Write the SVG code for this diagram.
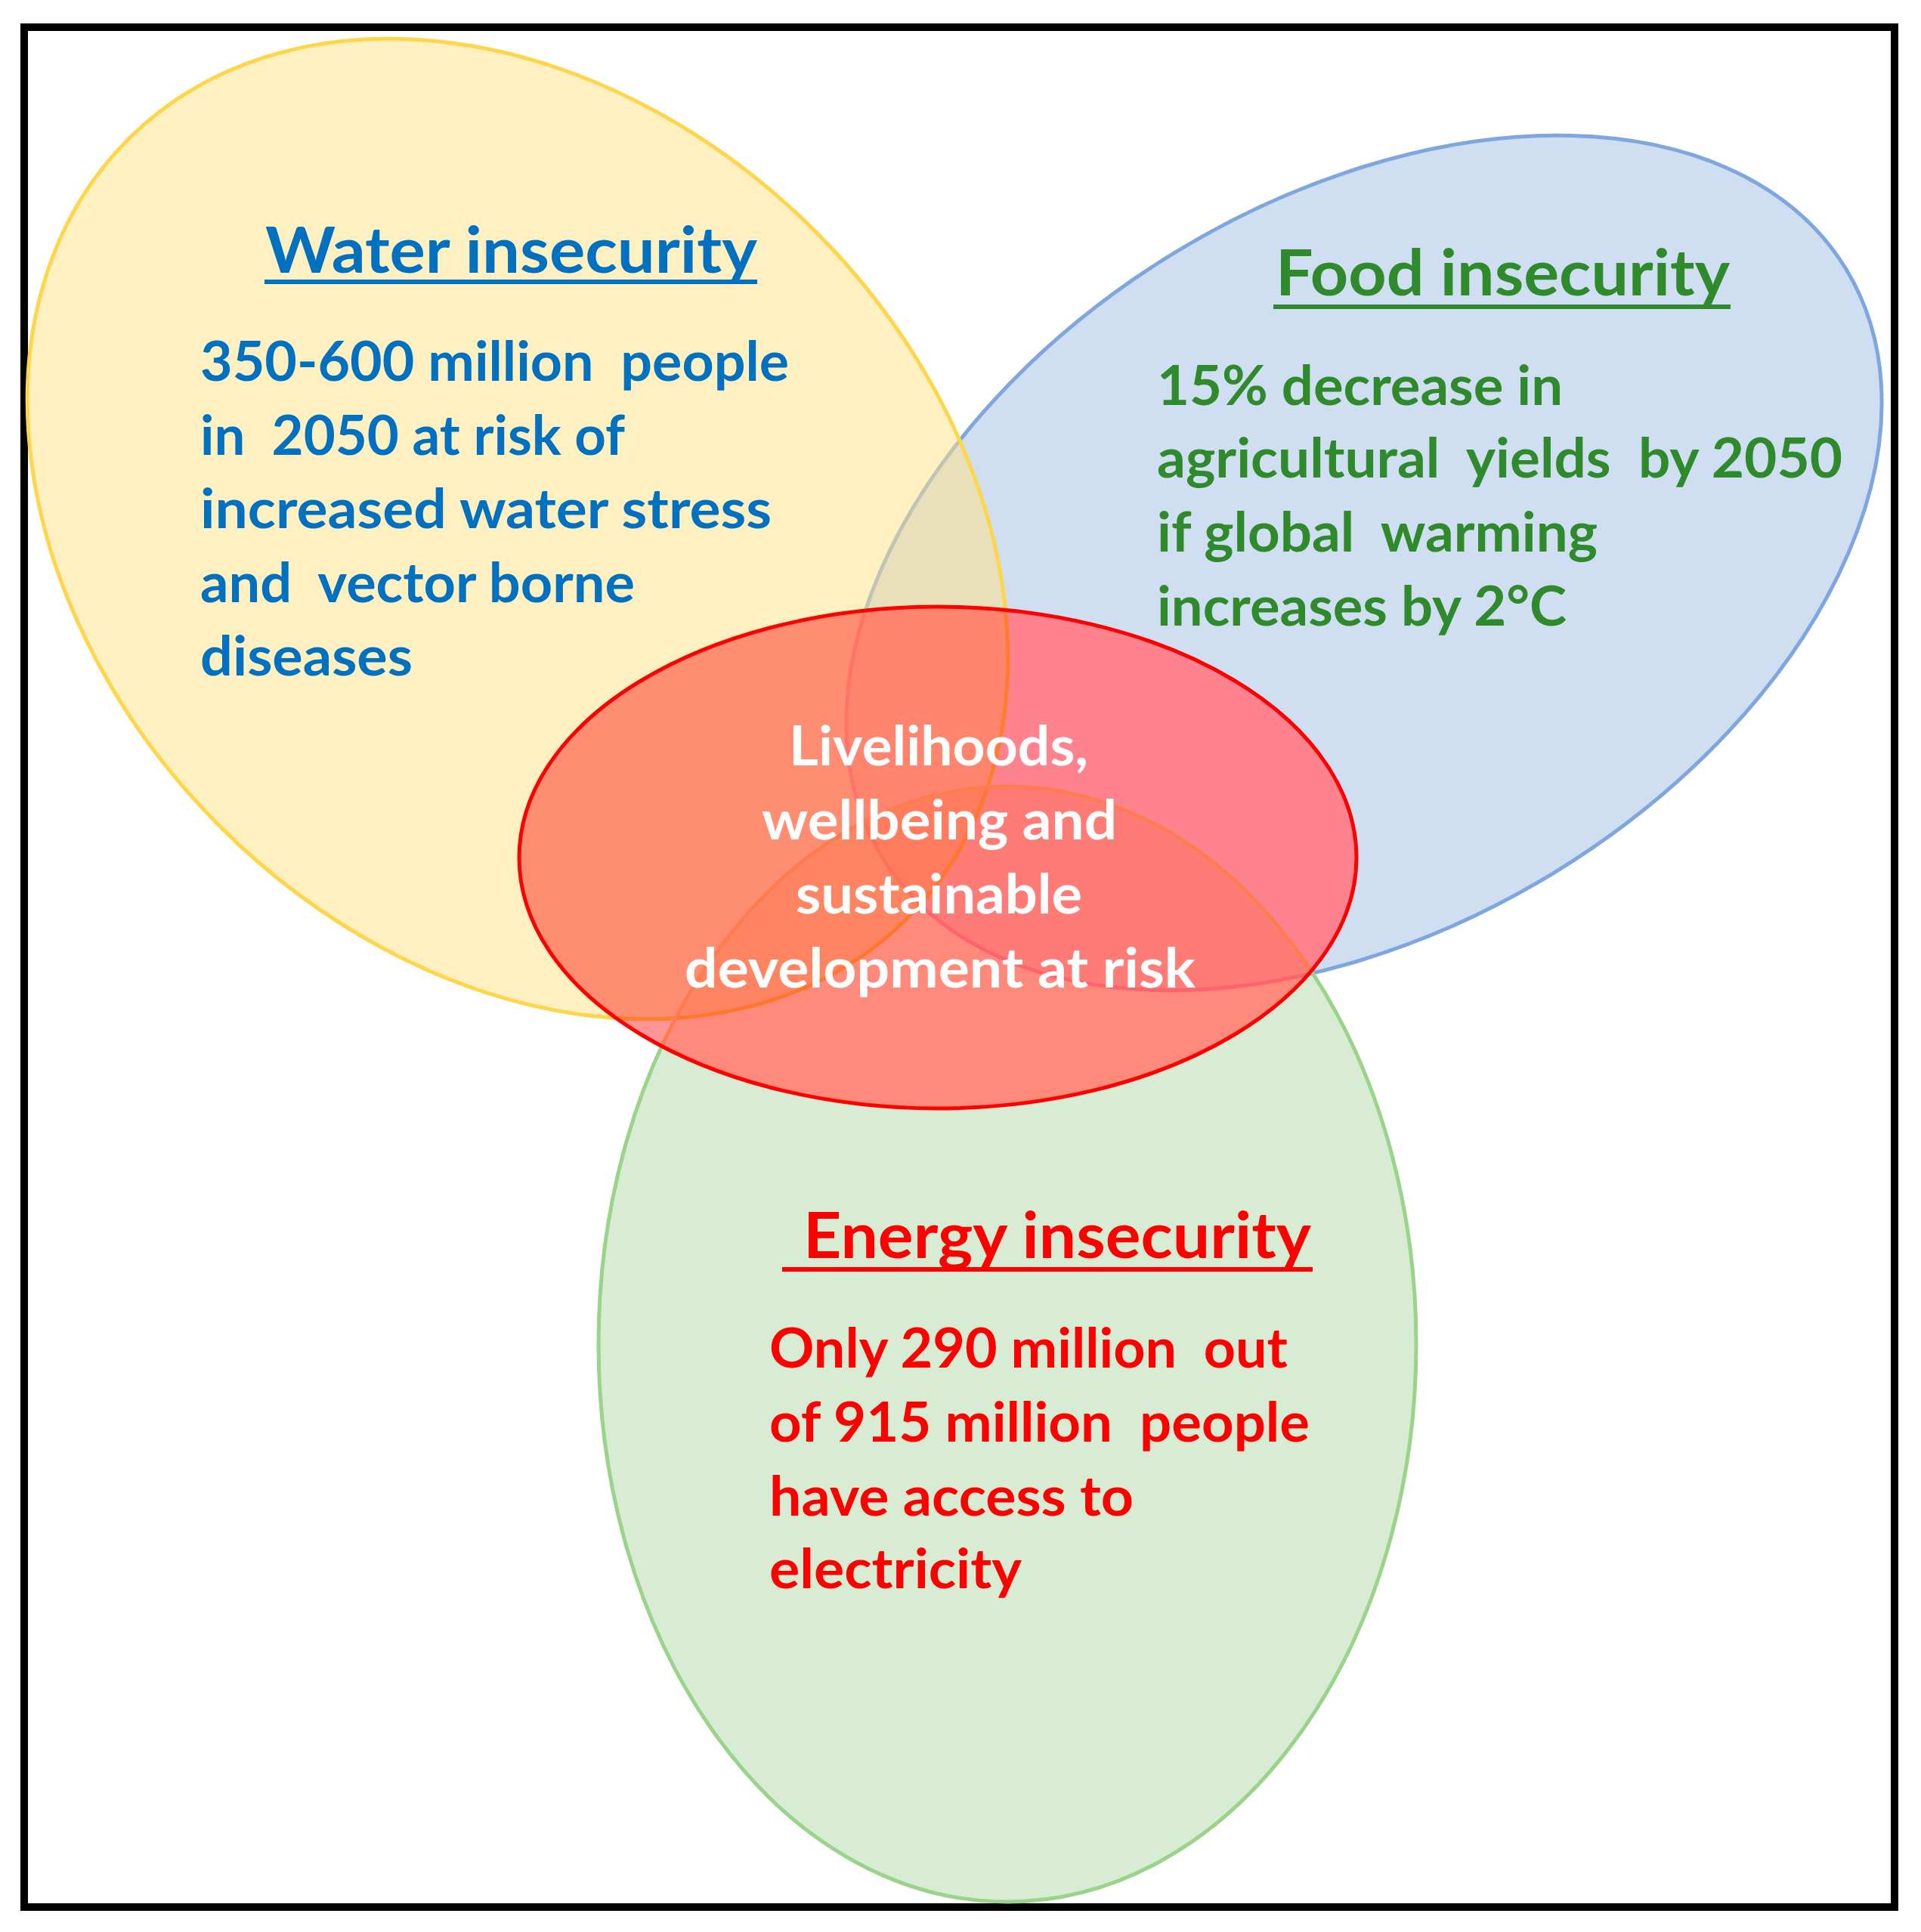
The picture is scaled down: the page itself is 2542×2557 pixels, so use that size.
<svg xmlns="http://www.w3.org/2000/svg" width="2542" height="2557" viewBox="0 0 2542 2557">
<style>
.t{font-family:Lato,"Open Sans","Liberation Sans",sans-serif;font-weight:700}
.title{font-size:84px}
.body{font-size:72px}
.water{fill:#0070C0}
.food{fill:#2F8A2B}
.energy{fill:#FF0000}
.center{fill:#FFFFFF}
.ul-water{fill:#0070C0}
.ul-food{fill:#2F8A2B}
.ul-energy{fill:#FF0000}
.mult{fill:#FF9696;mix-blend-mode:multiply}
.light{fill:#FF0000;mix-blend-mode:lighten}
</style>
<rect width="2542" height="2557" fill="#FFFFFF"/>
<rect x="32" y="36" width="2475" height="2488" fill="none" stroke="#000000" stroke-width="10"/>

<g id="food">
<ellipse cx="1805" cy="745" rx="747" ry="481" transform="rotate(-31.4 1805 745)" fill="#D0DEF2" stroke="#7FA6DE" stroke-width="5"/>
<text class="t title food" x="1688" y="391" textLength="601" lengthAdjust="spacingAndGlyphs">Food insecurity</text>
<rect class="ul-food" x="1685" y="403" width="605" height="6"/>
<text class="t body food" x="1531" y="536" textLength="537" lengthAdjust="spacingAndGlyphs">15% decrease in</text>
<text class="t body food" x="1531" y="632" textLength="907" lengthAdjust="spacingAndGlyphs" xml:space="preserve">agricultural  yields  by 2050</text>
<text class="t body food" x="1531" y="730" textLength="583" lengthAdjust="spacingAndGlyphs" xml:space="preserve">if global  warming</text>
<text class="t body food" x="1531" y="828" textLength="542" lengthAdjust="spacingAndGlyphs">increases by 2°C</text>
</g>

<g id="water">
<ellipse cx="685" cy="700" rx="729" ry="557" transform="rotate(45 685 700)" fill="#FFE285" fill-opacity="0.51" stroke="#FFD54A" stroke-width="5"/>
<text class="t title water" x="351" y="361" textLength="651" lengthAdjust="spacingAndGlyphs">Water insecurity</text>
<rect class="ul-water" x="350" y="370" width="652" height="6"/>
<text class="t body water" x="265" y="504" textLength="779" lengthAdjust="spacingAndGlyphs" xml:space="preserve">350-600 million  people</text>
<text class="t body water" x="265" y="602" textLength="562" lengthAdjust="spacingAndGlyphs" xml:space="preserve">in  2050 at risk of</text>
<text class="t body water" x="265" y="699" textLength="756" lengthAdjust="spacingAndGlyphs">increased water stress</text>
<text class="t body water" x="265" y="797" textLength="575" lengthAdjust="spacingAndGlyphs" xml:space="preserve">and  vector borne</text>
<text class="t body water" x="265" y="894" textLength="281" lengthAdjust="spacingAndGlyphs">diseases</text>
</g>

<g id="energy">
<ellipse cx="1333" cy="1779" rx="541" ry="738" fill="#64AF50" fill-opacity="0.25" stroke="#9AD38A" stroke-width="5"/>
<text class="t title energy" x="1063" y="1665" textLength="672" lengthAdjust="spacingAndGlyphs">Energy insecurity</text>
<rect class="ul-energy" x="1035" y="1677" width="702" height="6"/>
<text class="t body energy" x="1018" y="1810" textLength="686" lengthAdjust="spacingAndGlyphs" xml:space="preserve">Only 290 million  out</text>
<text class="t body energy" x="1018" y="1908" textLength="715" lengthAdjust="spacingAndGlyphs" xml:space="preserve">of 915 million  people</text>
<text class="t body energy" x="1018" y="2006" textLength="482" lengthAdjust="spacingAndGlyphs">have access to</text>
<text class="t body energy" x="1018" y="2102" textLength="334" lengthAdjust="spacingAndGlyphs">electricity</text>
</g>

<g id="livelihoods">
<ellipse class="mult" cx="1241" cy="1135" rx="554" ry="332"/>
<ellipse class="light" cx="1241" cy="1135" rx="554" ry="332"/>
<ellipse cx="1241" cy="1135" rx="554" ry="332" fill="none" stroke="#FF0000" stroke-width="5"/>
<text class="t body center" x="1044" y="1013" textLength="396" lengthAdjust="spacingAndGlyphs">Livelihoods,</text>
<text class="t body center" x="1008" y="1111" textLength="470" lengthAdjust="spacingAndGlyphs">wellbeing and</text>
<text class="t body center" x="1053" y="1209" textLength="379" lengthAdjust="spacingAndGlyphs">sustainable</text>
<text class="t body center" x="906" y="1307" textLength="676" lengthAdjust="spacingAndGlyphs">development at risk</text>
</g>

<g id="connectors"/>
</svg>
